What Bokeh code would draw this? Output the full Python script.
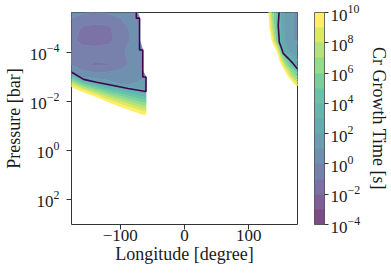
import numpy as np
from bokeh.plotting import figure
from bokeh.models import (Range1d, ColorBar, LogColorMapper, FixedTicker,
                          LogTickFormatter, LogAxis)
from bokeh.palettes import viridis
from bokeh.embed import file_html
from bokeh.resources import INLINE

N = np.nan

# ---- data ----
LONGITUDE_DEG = [-180, -160, -140, -120, -100, -85, -75, -70, -65, -60, -55, 120,
                 125, 130, 135, 140, 145, 150, 155, 160, 165, 170, 175, 180]
PRESSURE_BAR = [1.6e-6, 4.0e-6, 1.0e-5, 3.2e-5, 8.0e-5, 3.2e-4, 5.6e-4, 1.0e-3,
                2.0e-3, 4.0e-3, 8.0e-3, 1.6e-2, 3.2e-2, 6.3e-2, 1.0, 1.6e3]
# log10 of the Cr growth time [s]; NaN = not defined
LOG10_GROWTH_TIME = [
    [0.5, 0.4, 0.3, 0.4, 0.5, 0.6, 0.7, N, N, N, N, N, 15, 10.5, 7.0, 5.5, 4.5, 3.0, 2.0, 1.5, 1.2, 1.0, 1.0, 1.0],
    [0.1, -0.3, -0.5, -0.4, 0.0, 0.3, 0.5, 0.6, N, N, N, N, 15, 11.5, 7.5, 5.5, 4.0, 2.8, 2.0, 1.5, 1.2, 1.0, 1.0, 1.0],
    [-0.2, -1.1, -1.3, -1.2, -0.5, 0.1, 0.3, 0.5, N, N, N, N, 15, 12.0, 8.5, 6.0, 4.0, 2.8, 2.0, 1.5, 1.2, 1.0, 1.0, 1.0],
    [-0.3, -1.5, -1.6, -1.4, -0.5, 0.0, 0.2, 0.4, N, N, N, N, 15, 15, 11.0, 7.5, 4.6, 3.0, 2.2, 1.6, 1.2, 1.0, 1.0, 1.0],
    [0.1, -0.4, -0.6, -0.4, -0.1, 0.1, 0.2, 0.3, 0.5, N, N, N, 15, 15, 15, 12.0, 9.0, 4.5, 2.8, 2.0, 1.5, 1.2, 1.1, 1.0],
    [0.2, -0.8, -1.1, -1.05, -0.4, 0.1, 0.2, 0.4, 0.5, N, N, N, 15, 15, 15, 15, 15, 11.0, 8.0, 6.0, 4.8, 3.5, 2.6, 2.0],
    [1.0, 0.1, -0.2, -0.1, 0.1, 0.3, 0.4, 0.5, 0.7, N, N, N, 15, 15, 15, 15, 15, 15, 10.8, 8.5, 6.8, 5.5, 4.5, 4.0],
    [5.0, 0.9, 0.5, 0.4, 0.5, 0.6, 0.7, 0.8, 0.9, 1.0, N, N, 15, 15, 15, 15, 15, 15, 15, 11.0, 8.5, 7.2, 6.2, 5.8],
    [9.2, 5.6, 3.3, 1.8, 1.0, 1.0, 1.1, 1.2, 1.3, 1.4, N, N, 15, 15, 15, 15, 15, 15, 15, 15, 15, 10.5, 9.0, 8.5],
    [13.3, 10.3, 7.5, 5.4, 4.15, 3.3, 2.8, 2.5, 2.3, 2.1, N, N, 15, 15, 15, 15, 15, 15, 15, 15, 15, 15, 15, 15],
    [15, 15, 11.7, 8.8, 7.1, 6.0, 5.4, 5.1, 4.8, 4.6, N, N, 15, 15, 15, 15, 15, 15, 15, 15, 15, 15, 15, 15],
    [15, 15, 15, 12.3, 10.0, 8.7, 8.0, 7.6, 7.3, 7.1, N, N, 15, 15, 15, 15, 15, 15, 15, 15, 15, 15, 15, 15],
    [15, 15, 15, 15, 13.0, 11.5, 10.6, 10.2, 9.75, 9.6, N, N, 15, 15, 15, 15, 15, 15, 15, 15, 15, 15, 15, 15],
    [15, 15, 15, 15, 15, 15, 15, 15, 15, 15, N, N, 15, 15, 15, 15, 15, 15, 15, 15, 15, 15, 15, 15],
    [15, 15, 15, 15, 15, 15, 15, 15, 15, 15, N, N, 15, 15, 15, 15, 15, 15, 15, 15, 15, 15, 15, 15],
    [15, 15, 15, 15, 15, 15, 15, 15, 15, 15, N, N, 15, 15, 15, 15, 15, 15, 15, 15, 15, 15, 15, 15],
]
LEVEL_EXPONENTS = list(range(-4, 11))          # 1e-4 ... 1e10 s
COLORBAR_TICKS = [1e-4, 1e-2, 1e0, 1e2, 1e4, 1e6, 1e8, 1e10]
X_TICKS = [-100, 0, 100]
Y_TICKS = [1e-4, 1e-2, 1e0, 1e2]

# black boundary curves (longitude, pressure)
EDGE_WEST_LON = [-180, -175, -157, -137, -111, -88, -60, -60, -65, -65, -70, -70, -75, -75]
EDGE_WEST_P = [5.5e-4, 6.6e-4, 1.26e-3, 1.66e-3, 2.24e-3, 2.95e-3, 3.9e-3, 1.0e-3,
               1.0e-3, 8.0e-5, 8.0e-5, 4.0e-6, 4.0e-6, 1.6e-6]
EDGE_EAST_LON = [147.7, 146, 147.7, 150.8, 153.8, 161.5, 169, 175.4, 180]
EDGE_EAST_P = [1.6e-6, 7.9e-6, 3.9e-5, 6.3e-5, 1.1e-4, 1.74e-4, 2.8e-4, 4.5e-4, 5.6e-4]

FONT = "Liberation Serif"
TXT = "#1a1a1a"
ALPHA = 0.7
palette = viridis(len(LEVEL_EXPONENTS) - 1)

def blend(hex_color, a=ALPHA):
    h = hex_color.lstrip("#")
    rgb = [int(h[i:i + 2], 16) for i in (0, 2, 4)]
    return "#%02x%02x%02x" % tuple(int(round(a * c + (1 - a) * 255)) for c in rgb)

soft_palette = [blend(c) for c in palette]   # same look as alpha 0.7 on white, no seams

p = figure(width=391, height=275, x_range=Range1d(-176, 176),
           y_range=Range1d(1.05e3, 2.35e-6), y_axis_type="log",
           output_backend="svg", toolbar_location=None,
           min_border_left=68, min_border_right=94, min_border_top=12, min_border_bottom=51)
p.xgrid.grid_line_color = None
p.ygrid.grid_line_color = None
p.outline_line_color = "#333333"
p.outline_line_width = 1
p.background_fill_color = "white"
p.border_fill_color = "white"

z = np.array(LOG10_GROWTH_TIME, dtype=float)
logp = np.log10(np.array(PRESSURE_BAR))
cr = p.contour(np.array(LONGITUDE_DEG, dtype=float), logp, z, LEVEL_EXPONENTS,
               fill_color=soft_palette, fill_alpha=1.0)
g = cr.fill_renderer.glyph
g.line_color = g.fill_color
g.line_width = 0.8
g.line_alpha = 1.0
cr.line_renderer.visible = False

def to_pressure(obj):
    if isinstance(obj, np.ndarray):
        return np.power(10.0, obj)
    if isinstance(obj, (list, tuple)):
        return [to_pressure(o) for o in obj]
    return obj

src = cr.fill_renderer.data_source
d = dict(src.data)
d["ys"] = to_pressure(list(d["ys"]))
src.data = d

p.line(EDGE_WEST_LON, EDGE_WEST_P, line_color="#440154", line_width=1.6)
p.line(EDGE_EAST_LON, EDGE_EAST_P, line_color="#440154", line_width=1.6)

for ax in (p.xaxis[0], p.yaxis[0]):
    ax.axis_line_color = None
    ax.major_tick_line_color = "#333333"
    ax.major_tick_in = 0
    ax.major_tick_out = 5
    ax.minor_tick_line_color = None
    ax.major_label_text_font = FONT
    ax.major_label_text_font_size = "17px"
    ax.major_label_text_color = TXT
    ax.axis_label_text_font = FONT
    ax.axis_label_text_font_size = "18px"
    ax.axis_label_text_font_style = "normal"
    ax.axis_label_text_color = TXT

p.xaxis.ticker = FixedTicker(ticks=X_TICKS)
p.xaxis.major_label_overrides = {-100: "\u2212100"}
p.xaxis.axis_label = "Longitude [degree]"
p.xaxis.major_label_standoff = 0
p.xaxis.axis_label_standoff = 0

p.yaxis.ticker = FixedTicker(ticks=Y_TICKS)
p.yaxis.formatter = LogTickFormatter()
p.yaxis.axis_label = "Pressure [bar]"
p.yaxis.major_label_standoff = 7
p.yaxis.axis_label_standoff = 3

# blank spacer between the frame and the colour bar
spacer = LogAxis(axis_label=" ", ticker=FixedTicker(ticks=[]), axis_line_color=None,
                 major_tick_line_color=None, minor_tick_line_color=None,
                 major_tick_in=0, major_tick_out=0, major_label_standoff=0,
                 major_label_text_font_size="0px", axis_label_standoff=0,
                 axis_label_text_font=FONT, axis_label_text_font_size="12px")
p.add_layout(spacer, "right")

mapper = LogColorMapper(palette=palette, low=10.0 ** LEVEL_EXPONENTS[0],
                        high=10.0 ** LEVEL_EXPONENTS[-1])
cb = ColorBar(color_mapper=mapper, ticker=FixedTicker(ticks=COLORBAR_TICKS),
              formatter=LogTickFormatter(), width=10, scale_alpha=ALPHA,
              margin=0, padding=0, bar_line_color="#333333",
              major_tick_in=0, major_tick_out=4, major_tick_line_color="#333333",
              minor_tick_line_color=None, label_standoff=2,
              major_label_text_font=FONT, major_label_text_font_size="17px",
              major_label_text_color=TXT, background_fill_color=None)
p.add_layout(cb, "right")

lab = LogAxis(axis_label="Cr Growth Time [s]", ticker=FixedTicker(ticks=[]),
              axis_line_color=None, major_tick_line_color=None,
              minor_tick_line_color=None, major_tick_in=0, major_tick_out=0,
              major_label_standoff=0, major_label_text_font_size="0px",
              axis_label_text_font=FONT, axis_label_text_font_size="18px",
              axis_label_text_font_style="normal", axis_label_text_color=TXT,
              axis_label_standoff=5)
p.add_layout(lab, "right")

open("out.html", "w").write(file_html(p, INLINE))
